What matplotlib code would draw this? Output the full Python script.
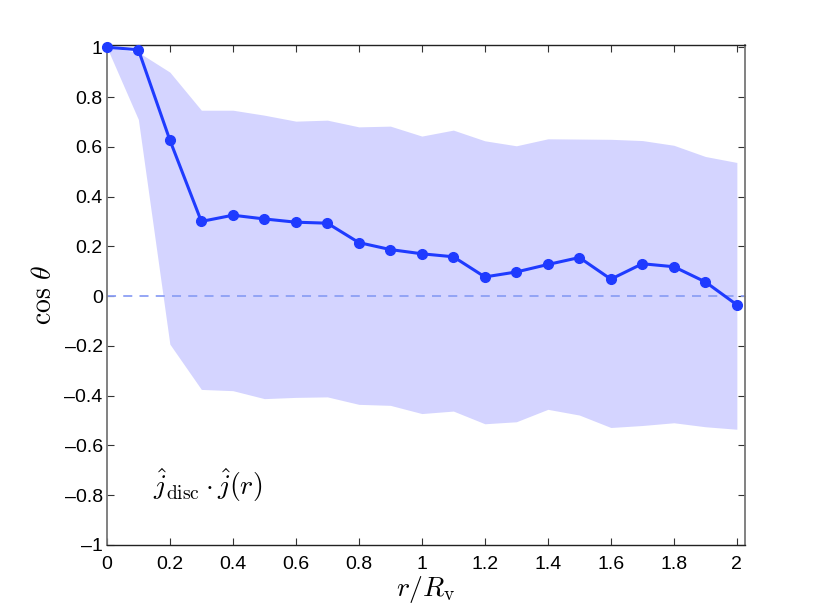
import matplotlib
matplotlib.use('Agg')
import matplotlib.pyplot as plt
import numpy as np

plt.rcParams['font.family'] = ['Liberation Sans', 'DejaVu Sans']
plt.rcParams['mathtext.fontset'] = 'cm'

# radius bins r/Rv
r_bins = [0.0, 0.1, 0.2, 0.3, 0.4, 0.5, 0.6, 0.7, 0.8, 0.9, 1.0,
          1.1, 1.2, 1.3, 1.4, 1.5, 1.6, 1.7, 1.8, 1.9, 2.0]
# mean cos(theta)
cos_mean = [1.0, 0.99, 0.627, 0.30, 0.325, 0.31, 0.297, 0.293, 0.215, 0.187, 0.17,
            0.158, 0.077, 0.097, 0.127, 0.155, 0.068, 0.13, 0.118, 0.057, -0.035]
# spread band
cos_upper = [1.0, 0.98, 0.90, 0.747, 0.747, 0.727, 0.703, 0.707, 0.68, 0.683, 0.643,
             0.667, 0.624, 0.604, 0.632, 0.631, 0.630, 0.625, 0.606, 0.561, 0.537]
cos_lower = [1.0, 0.71, -0.193, -0.375, -0.38, -0.412, -0.407, -0.405, -0.435, -0.439, -0.472,
             -0.462, -0.513, -0.505, -0.455, -0.478, -0.528, -0.52, -0.509, -0.525, -0.535]

xticks = [0, 0.2, 0.4, 0.6, 0.8, 1, 1.2, 1.4, 1.6, 1.8, 2]
yticks = [-1, -0.8, -0.6, -0.4, -0.2, 0, 0.2, 0.4, 0.6, 0.8, 1]


def tick_label(v):
    if v == int(v):
        s = '%d' % v
    else:
        s = ('%.1f' % v)
    return s.replace('-', '\u2013')


fig = plt.figure(figsize=(8.22, 6.13), dpi=100)
ax = fig.add_axes([0.130, 0.111, 0.776, 0.816])

ax.fill_between(r_bins, cos_lower, cos_upper, color='#d4d4ff', linewidth=0)
ax.axhline(0, color='#8c9ff5', linestyle=(0, (5, 4)), linewidth=1.3)
ax.plot(r_bins, cos_mean, color='#1f3bff', linewidth=2.2, marker='o',
        markersize=7, clip_on=False, zorder=5)

ax.set_xlim(0, 2.025)
ax.set_ylim(-1, 1.01)
ax.set_xticks(xticks)
ax.set_xticklabels([tick_label(v) for v in xticks])
ax.set_yticks(yticks)
ax.set_yticklabels([tick_label(v) for v in yticks])
ax.tick_params(direction='in', top=True, right=True, length=5, width=0.8,
               labelsize=14, colors='#333333', labelcolor='black')
ax.tick_params(axis='x', pad=8)
ax.tick_params(axis='y', pad=3)

for side in ['left', 'right']:
    ax.spines[side].set_color('#777777')
    ax.spines[side].set_linewidth(1.3)
for side in ['top', 'bottom']:
    ax.spines[side].set_color('#222222')
    ax.spines[side].set_linewidth(1.0)

ax.set_xlabel(r'$r/R_{\rm v}$', fontsize=20, labelpad=1)
ax.set_ylabel(r'$\cos\,\theta$', fontsize=20, labelpad=5)

ax.text(0.146, -0.80, r'$\hat{j}_{\rm disc}\cdot\hat{j}(r)$', fontsize=20,
        ha='left', va='baseline')

plt.savefig('out.png', dpi=100)
